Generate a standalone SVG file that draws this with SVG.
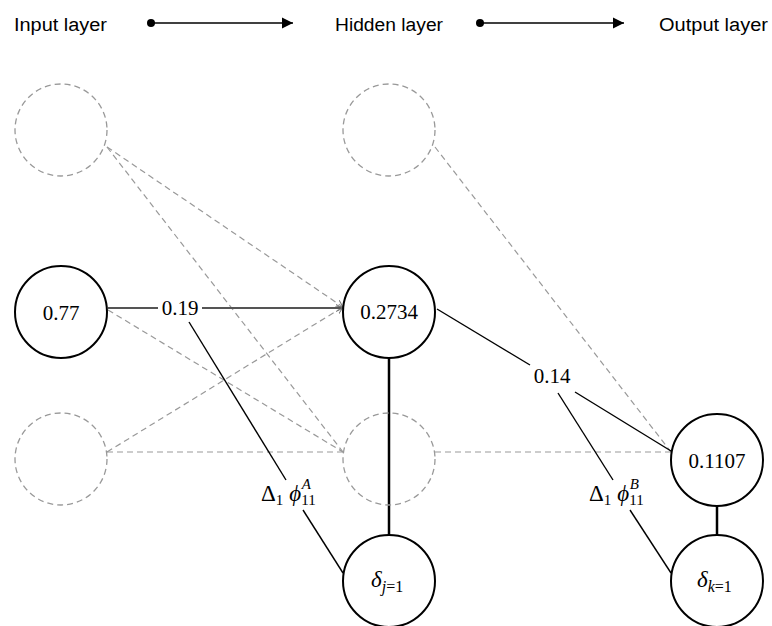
<svg xmlns="http://www.w3.org/2000/svg" width="772" height="626" viewBox="0 0 772 626">
  <defs>
    <marker id="head" markerWidth="12" markerHeight="12" refX="11" refY="6" orient="auto" markerUnits="userSpaceOnUse">
      <path d="M0,0.5 L11,6 L0,11.5 Z" fill="#000"/>
    </marker>
    <marker id="dot" markerWidth="10" markerHeight="10" refX="5" refY="5" markerUnits="userSpaceOnUse">
      <circle cx="5" cy="5" r="4" fill="#000"/>
    </marker>
    <marker id="open" markerWidth="8" markerHeight="8" refX="7" refY="4" orient="auto" markerUnits="userSpaceOnUse">
      <path d="M0,0.5 L7,4 L0,7.5" fill="none" stroke="#777" stroke-width="1"/>
    </marker>
  </defs>
  <style>
    .hdr { font-family: "Liberation Sans", Arial, sans-serif; font-size: 18px; fill: #000; }
    .val { font-family: "Liberation Serif", "Times New Roman", serif; font-size: 21px; fill: #000; text-anchor: middle; }
    .math { font-family: "Liberation Serif", "Times New Roman", serif; font-size: 23px; fill: #000; }
    .it { font-style: italic; }
    .ghost { fill: none; stroke: #999; stroke-width: 1.3; stroke-dasharray: 6 4; }
    .node { fill: #fff; stroke: #000; stroke-width: 2; }
    .dash { fill: none; stroke: #999; stroke-width: 1.2; stroke-dasharray: 6 4; }
    .edge { fill: none; stroke: #000; stroke-width: 1.4; }
    .main { fill: none; stroke: #555; stroke-width: 2; }
    .bond { fill: none; stroke: #000; stroke-width: 2.5; }
  </style>

  <!-- header: layer flow -->
  <g id="legend">
    <text class="hdr" x="14" y="31" textLength="93" lengthAdjust="spacingAndGlyphs">Input layer</text>
    <line x1="151" y1="23" x2="293" y2="23" stroke="#000" stroke-width="1.5" marker-start="url(#dot)" marker-end="url(#head)"/>
    <text class="hdr" x="335" y="31" textLength="108" lengthAdjust="spacingAndGlyphs">Hidden layer</text>
    <line x1="480" y1="23" x2="624" y2="23" stroke="#000" stroke-width="1.5" marker-start="url(#dot)" marker-end="url(#head)"/>
    <text class="hdr" x="659" y="31" textLength="109" lengthAdjust="spacingAndGlyphs">Output layer</text>
  </g>

  <!-- connectors -->
  <g id="connectors">
    <!-- inactive weights -->
    <line class="dash" x1="107" y1="147" x2="343" y2="307" marker-end="url(#open)"/>
    <line class="dash" x1="107" y1="147" x2="343" y2="452"/>
    <line class="dash" x1="108" y1="310" x2="343" y2="452"/>
    <line class="dash" x1="107" y1="452" x2="343" y2="307" marker-end="url(#open)"/>
    <line class="dash" x1="107" y1="452" x2="343" y2="452"/>
    <line class="dash" x1="435" y1="147" x2="671" y2="452"/>
    <line class="dash" x1="435" y1="452" x2="671" y2="452"/>
    <!-- active weights -->
    <line class="main" x1="108" y1="308" x2="158" y2="308"/>
    <line class="main" x1="202" y1="308" x2="343" y2="308" marker-end="url(#open)"/>
    <line class="edge" x1="437" y1="309" x2="530" y2="365"/>
    <line class="edge" x1="575" y1="392" x2="671" y2="451"/>
    <!-- gradient links -->
    <line class="edge" x1="189" y1="322" x2="286" y2="480"/>
    <line class="edge" x1="303" y1="510" x2="343" y2="573"/>
    <line class="edge" x1="558" y1="393" x2="613" y2="480"/>
    <line class="edge" x1="630" y1="510" x2="671" y2="573"/>
    <!-- node to delta -->
    <line class="bond" x1="389" y1="358" x2="389" y2="535"/>
    <line class="bond" x1="717" y1="506" x2="717" y2="535"/>
  </g>

  <!-- input layer -->
  <g id="in1"><circle class="ghost" cx="61" cy="130" r="46"/></g>
  <g id="in2"><circle class="node" cx="61" cy="312" r="46"/><text class="val" x="61" y="320">0.77</text></g>
  <g id="in3"><circle class="ghost" cx="61" cy="459" r="46"/></g>

  <!-- hidden layer -->
  <g id="hid1"><circle class="ghost" cx="389" cy="130" r="46"/></g>
  <g id="hid2"><circle class="node" cx="389" cy="312" r="46"/><text class="val" x="389" y="319">0.2734</text></g>
  <g id="hid3"><circle class="ghost" cx="389" cy="459" r="46"/></g>
  <g id="deltaJ">
    <circle class="node" cx="389" cy="581" r="46"/>
    <text class="math" x="371" y="587"><tspan class="it">δ</tspan><tspan font-size="16" dy="5"><tspan class="it">j</tspan>=1</tspan></text>
  </g>

  <!-- output layer -->
  <g id="out1"><circle class="node" cx="717" cy="460" r="46"/><text class="val" x="717" y="468">0.1107</text></g>
  <g id="deltaK">
    <circle class="node" cx="717" cy="581" r="46"/>
    <text class="math" x="697" y="587"><tspan class="it">δ</tspan><tspan font-size="16" dy="5"><tspan class="it">k</tspan>=1</tspan></text>
  </g>

  <!-- weight labels -->
  <g id="w1"><text class="val" x="180" y="315">0.19</text></g>
  <g id="w2"><text class="val" x="552" y="383">0.14</text></g>
  <g id="g1">
    <text class="math" x="261" y="501">Δ<tspan font-size="15" dy="4">1</tspan><tspan dy="-4" dx="6" class="it">ϕ</tspan><tspan font-size="15" dy="4">11</tspan><tspan font-size="15" dx="-14" dy="-16" class="it">A</tspan></text>
  </g>
  <g id="g2">
    <text class="math" x="589" y="501">Δ<tspan font-size="15" dy="4">1</tspan><tspan dy="-4" dx="6" class="it">ϕ</tspan><tspan font-size="15" dy="4">11</tspan><tspan font-size="15" dx="-14" dy="-16" class="it">B</tspan></text>
  </g>
</svg>
